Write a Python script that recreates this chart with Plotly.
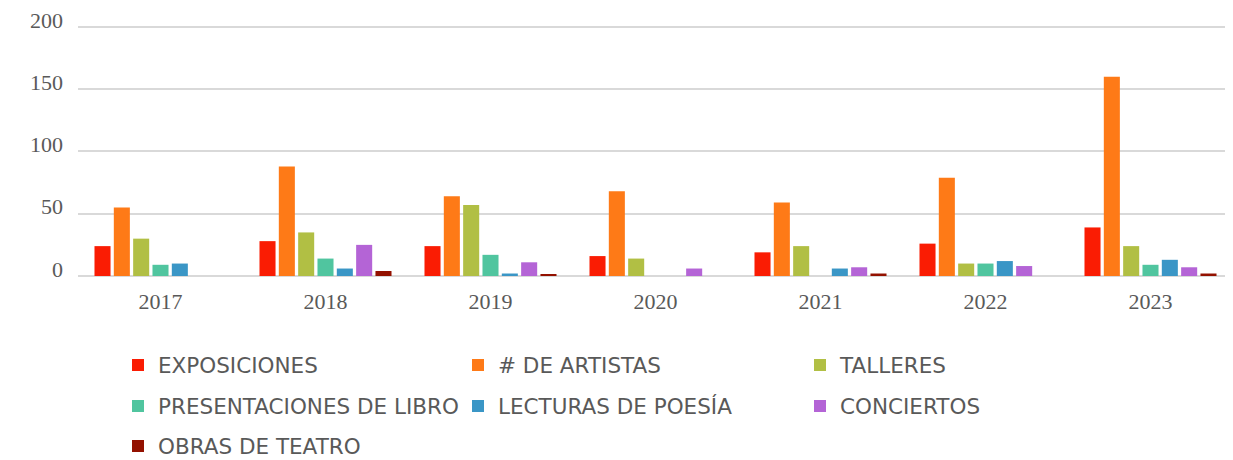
import plotly.graph_objects as go

years = ["2017", "2018", "2019", "2020", "2021", "2022", "2023"]

series_names = [
    "EXPOSICIONES",
    "# DE ARTISTAS",
    "TALLERES",
    "PRESENTACIONES DE LIBRO",
    "LECTURAS DE POESÍA",
    "CONCIERTOS",
    "OBRAS DE TEATRO",
]

exposiciones = [24, 28, 24, 16, 19, 26, 39]
artistas = [55, 88, 64, 68, 59, 79, 160]
talleres = [30, 35, 57, 14, 24, 10, 24]
presentaciones = [9, 14, 17, 0, 0, 10, 9]
lecturas = [10, 6, 2, 0, 6, 12, 13]
conciertos = [0, 25, 11, 6, 7, 8, 7]
obras = [0, 4, 1, 0, 2, 0, 2]

series_values = [exposiciones, artistas, talleres, presentaciones, lecturas, conciertos, obras]
colors = ["#FA1C03", "#FE7A17", "#B1BF44", "#50C59F", "#3A96C6", "#B464D6", "#931100"]

y_ticks = [0, 50, 100, 150, 200]

# The page body has an 8px margin: the figure is drawn at (8, 8) in the window.
OFF = 8
W, H = 1233 - OFF, 460 - OFF

# legend positions (window px): left x of text, center y of marker
legend_pos = [
    (158, 365), (498, 365), (840, 365),
    (158, 406), (498, 406), (840, 406),
    (158, 446),
]

fig = go.Figure()
layout_legends = {}
for i, (name, vals, col) in enumerate(zip(series_names, series_values, colors)):
    lg = "legend" if i == 0 else f"legend{i+1}"
    fig.add_trace(go.Bar(
        x=years, y=vals, name=name, marker_color=col, marker_line_width=0,
        legend=lg,
    ))
    tx, ty = legend_pos[i]
    layout_legends[lg] = dict(
        xref="container", yref="container",
        x=(tx - OFF - 40) / W, y=1 - (ty - OFF) / H,
        xanchor="left", yanchor="middle",
        orientation="h",
        font=dict(family="DejaVu Sans", size=21.5, color="#595959"),
        bgcolor="rgba(0,0,0,0)",
        borderwidth=0,
    )

fig.update_layout(
    width=W, height=H,
    margin=dict(l=78 - OFF, r=0, t=21 - OFF, b=184),
    plot_bgcolor="white", paper_bgcolor="white",
    barmode="group",
    bargap=0.18,
    bargroupgap=0.17,
    showlegend=True,
    **layout_legends,
)

fig.update_xaxes(
    type="category",
    showgrid=False,
    showline=False,
    ticks="",
    ticklabelstandoff=10,
    tickfont=dict(family="Liberation Serif", size=22, color="#595959"),
)
fig.update_yaxes(
    range=[0, 202.4],
    tickvals=y_ticks,
    showgrid=True, gridcolor="#D9D9D9", gridwidth=2,
    zeroline=True, zerolinecolor="#D9D9D9", zerolinewidth=2,
    showline=False,
    ticks="",
    ticklabelstandoff=14,
    ticklabelshift=-7,
    ticklabeloverflow="allow",
    tickfont=dict(family="Liberation Serif", size=22, color="#595959"),
)

fig.write_html("out.html")
